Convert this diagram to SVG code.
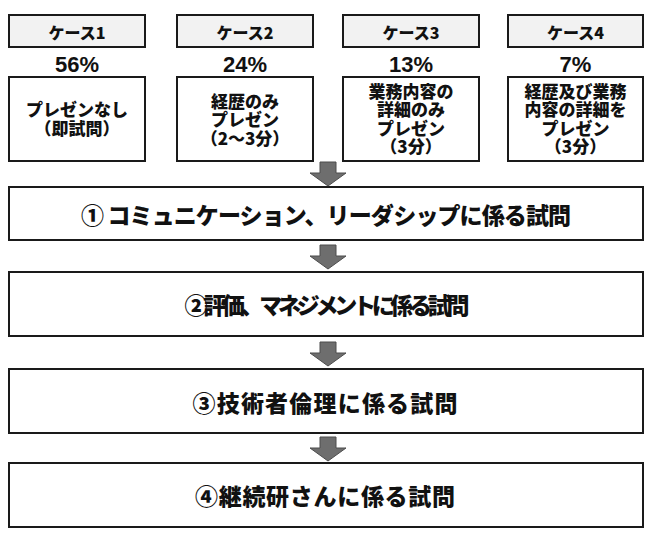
<svg xmlns="http://www.w3.org/2000/svg" width="650" height="536" viewBox="0 0 650 536">
<style>
.hd{fill:#f2f2f2;stroke:#1a1a1a;stroke-width:2}
.bx{fill:#fff;stroke:#1a1a1a;stroke-width:2}
.t{font-family:"Noto Sans CJK JP","Liberation Sans",sans-serif;font-weight:900;fill:#111;text-anchor:middle;dominant-baseline:central}
.h{font-size:16px}
.p{font-family:"Liberation Sans",Arial,sans-serif;font-weight:bold;font-size:22px;fill:#111;text-anchor:middle}
.c{font-size:17px}
.b{font-size:23px}
.ar{fill:#6e6e6e;stroke:#4d4d4d;stroke-width:1}
</style>
<rect width="650" height="536" fill="#fff"/>
<g id="case1">
<rect class="hd" x="9" y="15" width="136" height="32"/>
<text class="t h" x="77" y="32">ケース1</text>
<text class="p" x="77" y="72">56%</text>
<rect class="bx" x="9" y="77" width="136" height="84"/>
<text class="t c" x="77" y="108">プレゼンなし</text>
<text class="t c" x="77" y="127">（即試問）</text>
</g>
<g id="case2">
<rect class="hd" x="177" y="15" width="136" height="32"/>
<text class="t h" x="245" y="32">ケース2</text>
<text class="p" x="245" y="72">24%</text>
<rect class="bx" x="177" y="77" width="136" height="84"/>
<text class="t c" x="245" y="100">経歴のみ</text>
<text class="t c" x="245" y="118.5">プレゼン</text>
<text class="t c" x="245" y="137">（2～3分）</text>
</g>
<g id="case3">
<rect class="hd" x="343" y="15" width="136" height="32"/>
<text class="t h" x="411" y="32">ケース3</text>
<text class="p" x="411" y="72">13%</text>
<rect class="bx" x="343" y="77" width="136" height="84"/>
<text class="t c" x="411" y="90">業務内容の</text>
<text class="t c" x="411" y="108.5">詳細のみ</text>
<text class="t c" x="411" y="127">プレゼン</text>
<text class="t c" x="411" y="145.5">（3分）</text>
</g>
<g id="case4">
<rect class="hd" x="508" y="15" width="135" height="32"/>
<text class="t h" x="575.5" y="32">ケース4</text>
<text class="p" x="575.5" y="72">7%</text>
<rect class="bx" x="508" y="77" width="135" height="84"/>
<text class="t c" x="575.5" y="90">経歴及び業務</text>
<text class="t c" x="575.5" y="108.5">内容の詳細を</text>
<text class="t c" x="575.5" y="127">プレゼン</text>
<text class="t c" x="575.5" y="145.5">（3分）</text>
</g>
<g id="step1">
<rect class="bx" x="9" y="187" width="634" height="53"/>
<text class="t b" x="326" y="214" textLength="490">①  コミュニケーション、リーダシップに係る試問</text>
</g>
<g id="step2">
<rect class="bx" x="9" y="272" width="634" height="64"/>
<text class="t b" x="327" y="304" textLength="285">②評価、マネジメントに係る試問</text>
</g>
<g id="step3">
<rect class="bx" x="9" y="369" width="634" height="64"/>
<text class="t b" x="325" y="401.5" textLength="265">③技術者倫理に係る試問</text>
</g>
<g id="step4">
<rect class="bx" x="9" y="463" width="634" height="64"/>
<text class="t b" x="325" y="495" textLength="260">④継続研さんに係る試問</text>
</g>
<g id="connectors">
<path class="ar" d="M320,162 H336 V173 H346 L328,186 L310,173 H320 Z"/>
<path class="ar" d="M320,245 H336 V256 H346 L328,269 L310,256 H320 Z"/>
<path class="ar" d="M320,342 H336 V353 H346 L328,366 L310,353 H320 Z"/>
<path class="ar" d="M320,437 H336 V448 H346 L328,461 L310,448 H320 Z"/>
</g>
</svg>
